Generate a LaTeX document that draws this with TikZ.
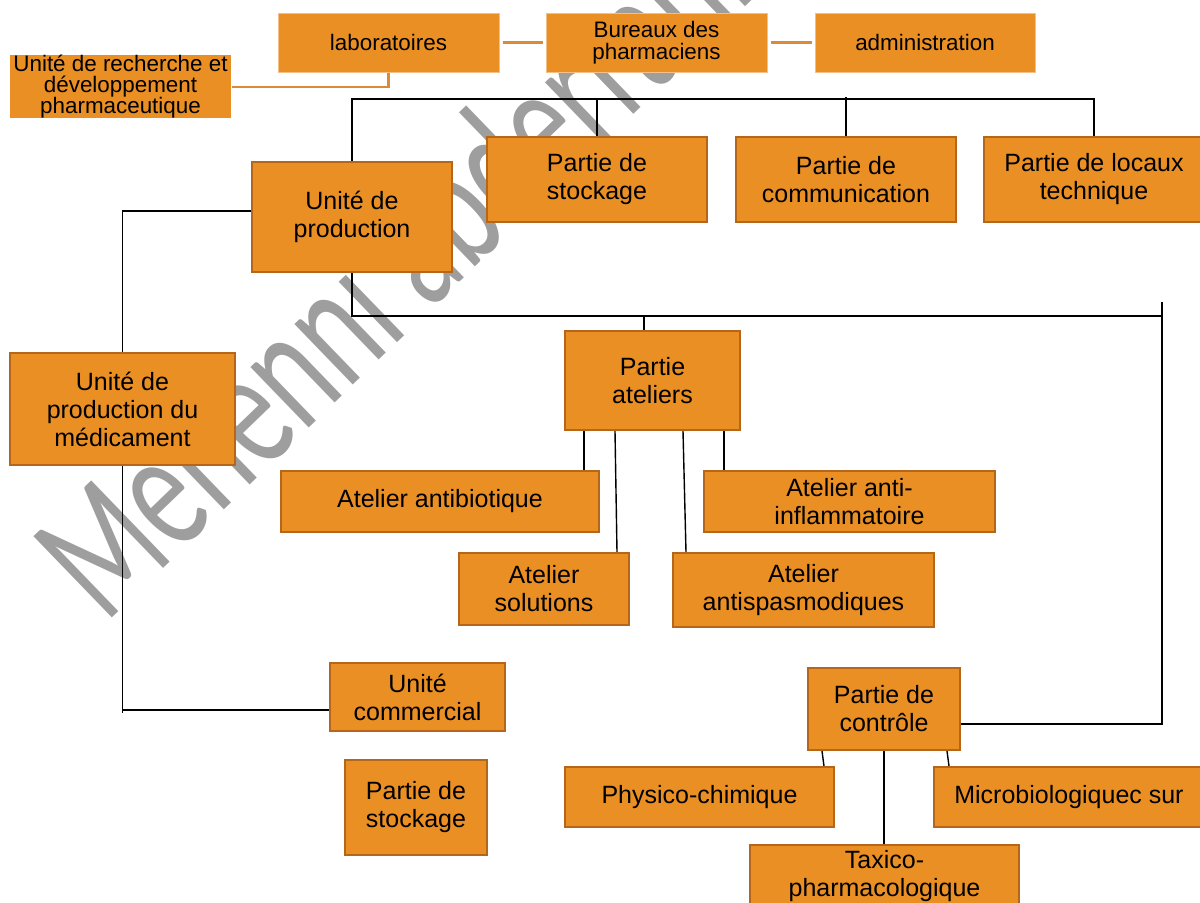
\documentclass[tikz,border=0pt]{standalone}
\usepackage{fontspec}
\usepackage{graphicx}
\setmainfont{Liberation Sans}
\newfontfamily\wmfont{Carlito}
\usetikzlibrary{calc}
\definecolor{boxfill}{HTML}{EA8F24}
\definecolor{boxedge}{HTML}{B5661A}
\definecolor{linkorange}{HTML}{DB8A35}
\definecolor{wmgray}{HTML}{9E9E9E}
\pgfdeclarelayer{wm}
\pgfdeclarelayer{links}
\pgfsetlayers{wm,links,main}
% \pbox{style}{x1}{y1}{x2}{y2}{name}{text}: box spanning two corners (pixel units)
\newcommand{\pbox}[7]{%
  \node[#1, minimum width={0.5pt*(#4-#2)}, minimum height={0.5pt*(#5-#3)}]
    (#6) at ({(#2+#4)/2},{(#3+#5)/2}) {#7};}
\begin{document}
\begin{tikzpicture}[x=0.5pt,y=-0.5pt,
  box/.style={draw=boxedge, line width=1pt, fill=boxfill, inner sep=0pt,
    align=center, font=\fontsize{12.5}{14}\selectfont},
  topbox/.style={draw=boxfill!55!white, line width=0.5pt, fill=boxfill, inner sep=0pt,
    align=center, font=\fontsize{11.2}{10.7}\selectfont},
  link/.style={draw=black, line width=0.7pt},
  olink/.style={draw=linkorange, line width=1.2pt}]
\useasboundingbox (0,0) rectangle (1200,902);
\clip (0,0) rectangle (1200,902);

% helper coordinates for bus levels
\coordinate (yA) at (0,211);
\coordinate (yB) at (0,710);
\coordinate (yC) at (0,316);
\coordinate (yD) at (0,724);
\coordinate (yE) at (0,87);
\coordinate (yTop) at (0,99);
\coordinate (xAt) at (644,0);
\coordinate (rtop) at (1162,302);

% top row
\pbox{topbox}{278}{13}{499}{72}{lab}{laboratoires}
\pbox{topbox}{546}{13}{767}{72}{bur}{Bureaux des\\pharmaciens}
\pbox{topbox}{815}{13}{1035}{72}{adm}{administration}
\pbox{topbox, draw=none}{10}{57}{231}{116}{rech}{Unité de recherche et\\développement\\pharmaceutique}

% second row
\pbox{box}{252}{162}{452}{272}{prod}{Unité de\\production}
\pbox{box}{487}{137}{707}{222}{stock}{Partie de\\stockage}
\pbox{box}{736}{137}{956}{222}{comm}{Partie de\\communication}
\pbox{box}{984}{137}{1204}{222}{loc}{Partie de locaux\\technique}

% production branch
\pbox{box}{10}{353}{235}{465}{med}{Unité de\\production du\\médicament}
\pbox{box}{565}{331}{740}{430}{atel}{Partie\\ateliers}
\pbox{box}{281}{471}{599}{532}{antib}{Atelier antibiotique}
\pbox{box}{704}{471}{995}{532}{infl}{Atelier anti-\\inflammatoire}
\pbox{box}{459}{553}{629}{625}{sol}{Atelier\\solutions}
\pbox{box}{673}{553}{934}{627}{spas}{Atelier\\antispasmodiques}
\pbox{box}{330}{663}{505}{731}{ucom}{Unité\\commercial}
\pbox{box}{345}{760}{487}{855}{stock2}{Partie de\\stockage}

% control branch
\pbox{box}{808}{668}{960}{750}{ctrl}{Partie de\\contrôle}
\pbox{box}{565}{767}{834}{827}{phys}{Physico-chimique}
\pbox{box}{934}{767}{1204}{827}{micro}{Microbiologiquec sur}
\pbox{box}{750}{845}{1019}{908}{taxi}{Taxico-\\pharmacologique}

% watermark: tall, condensed lettering on the diagonal
\begin{pgfonlayer}{wm}
\node[text=wmgray, rotate=44, anchor=base west, inner sep=0pt,
  font=\wmfont\fontsize{88}{92}\selectfont] (mark) at (105,625)
  {\scalebox{0.66}[1]{Mehenni abderrahmane}};
\end{pgfonlayer}

\begin{pgfonlayer}{links}
% orange links of the top row
\draw[olink, shorten <=1.5pt, shorten >=1.5pt] (lab.east) -- (bur.west);
\draw[olink, shorten <=1.5pt, shorten >=1.5pt] (bur.east) -- (adm.west);
\draw[olink] (rech.east |- yE) -- (lab.south |- yE) -- (lab.south);

% top bus
\draw[link] (prod.north) -- (prod.north |- yTop) -- (loc.north |- yTop) -- (loc.north);
\draw[link] (stock.north) -- (stock.north |- yTop);
\draw[link] (comm.north) -- ($(comm.north |- yTop)+(0,-2)$);

% left branch
\draw[link] (prod.west |- yA) -- (med.north |- yA) -- (med.north);
\draw[link] (med.south) -- ($(med.south |- yB)+(0,3)$);
\draw[link] (med.south |- yB) -- (ucom.west |- yB);

% right bus
\draw[link] (prod.south) -- (prod.south |- yC) -- (rtop |- yC);
\draw[link] (rtop) -- (rtop |- yD) -- (ctrl.east |- yD);
\draw[link] (xAt |- atel.north) -- (xAt |- yC);

% workshops
\draw[link] ($(atel.south)+(-68.5,0)$) coordinate (t1) -- (t1 |- antib.north);
\draw[link] ($(atel.south)+(-37.5,0)$) -- ($(sol.north)+(73,0)$);
\draw[link] ($(atel.south)+(30.5,0)$) -- ($(spas.north)+(-117.5,0)$);
\draw[link] ($(atel.south)+(71.5,0)$) coordinate (t4) -- (t4 |- infl.north);

% control
\draw[link] ($(ctrl.south)+(-62,0)$) -- ($(phys.north)+(124.5,0)$);
\draw[link] (ctrl.south) -- (ctrl.south |- taxi.north);
\draw[link] ($(ctrl.south)+(63,0)$) -- ($(micro.north)+(-120,0)$);
\end{pgfonlayer}
\end{tikzpicture}
\end{document}
